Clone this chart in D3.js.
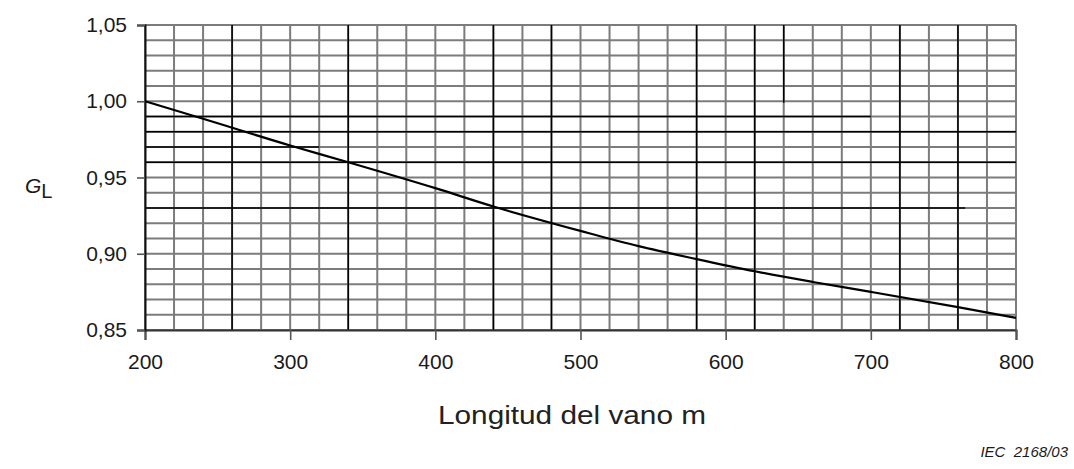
<!DOCTYPE html>
<html>
<head>
<meta charset="utf-8">
<script src="https://cdn.jsdelivr.net/npm/d3@7"></script>
<style>
  body { margin: 0; background: #fff; }
  svg text { font-family: "Liberation Sans", Arial, sans-serif; fill: #1a1a1a; }
</style>
</head>
<body>
<div id="chart"></div>
<script>
let width = 1074
let height = 469
let margin = {top: 25, right: 58, bottom: 139, left: 145}

// span length (m) and factor G_L
let spans = [200, 240, 300, 340, 400, 440, 500, 540, 580, 620, 660, 700, 760, 800]
let gl = [1.000, 0.9885, 0.971, 0.960, 0.943, 0.931, 0.915, 0.905, 0.8965, 0.8885, 0.8815, 0.875, 0.865, 0.858]

let xTicks = [200, 300, 400, 500, 600, 700, 800]
let yTicks = [0.85, 0.90, 0.95, 1.00, 1.05]

// the scanned grid has some lines printed darker, some only partly
let darkX = [[260, 0.85, 1.05], [340, 0.85, 1.05], [440, 0.85, 1.05], [480, 0.85, 1.05], [580, 0.85, 1.05],
             [620, 0.85, 1.05], [640, 0.999, 1.05], [720, 0.85, 1.05], [760, 0.85, 1.05]]
let darkY = [[0.99, 200, 700], [0.98, 200, 800], [0.97, 200, 320], [0.96, 200, 800], [0.93, 200, 765]]

let w = width - margin.left - margin.right
let h = height - margin.top - margin.bottom

let svg = d3.select('#chart')
    .append('svg')
    .attr('width', width)
    .attr('height', height)

let g = svg.append('g')
    .attr('transform', 'translate(' + margin.left + ',' + margin.top + ')')

let x = d3.scaleLinear()
    .domain([200, 800])
    .range([0, w])

let y = d3.scaleLinear()
    .domain([0.85, 1.05])
    .range([h, 0])

// light grid, every 20 m and every 0,01
let gridX = d3.range(200, 801, 20)
let gridY = d3.range(0, 21).map(i => 0.85 + i * 0.01)

g.selectAll('.vgrid')
    .data(gridX)
    .enter()
    .append('line')
    .attr('x1', d => x(d)).attr('x2', d => x(d))
    .attr('y1', 0).attr('y2', h)
    .attr('stroke', '#7c7c7c')
    .attr('stroke-width', 2)

g.selectAll('.hgrid')
    .data(gridY)
    .enter()
    .append('line')
    .attr('x1', 0).attr('x2', w)
    .attr('y1', d => y(d)).attr('y2', d => y(d))
    .attr('stroke', '#7c7c7c')
    .attr('stroke-width', 2)

g.selectAll('.darkx')
    .data(darkX)
    .enter()
    .append('line')
    .attr('x1', d => x(d[0])).attr('x2', d => x(d[0]))
    .attr('y1', d => y(d[2])).attr('y2', d => y(d[1]))
    .attr('stroke', '#000')
    .attr('stroke-width', 1.5)

g.selectAll('.darky')
    .data(darkY)
    .enter()
    .append('line')
    .attr('x1', d => x(d[1])).attr('x2', d => x(d[2]))
    .attr('y1', d => y(d[0])).attr('y2', d => y(d[0]))
    .attr('stroke', '#000')
    .attr('stroke-width', 1.5)

// axes
let xAxis = d3.axisBottom(x)
    .tickValues(xTicks)
    .tickSize(10)
    .tickPadding(14)
    .tickFormat(d3.format('d'))

let yAxis = d3.axisLeft(y)
    .tickValues(yTicks)
    .tickSize(8)
    .tickPadding(10)
    .tickFormat(d => d3.format('.2f')(d).replace('.', ','))

let xg = g.append('g')
    .attr('transform', 'translate(0,' + h + ')')
    .call(xAxis)
xg.select('.domain').attr('stroke', '#333').attr('stroke-width', 2)
xg.selectAll('line').attr('stroke', '#555').attr('stroke-width', 1.6)
xg.selectAll('text').style('font-size', '21px')

let yg = g.append('g')
    .call(yAxis)
yg.select('.domain').attr('stroke', '#111').attr('stroke-width', 2)
yg.selectAll('line').attr('stroke', '#555').attr('stroke-width', 1.6)
yg.selectAll('text').style('font-size', '21px')

// curve
let line = d3.line()
    .x((d, i) => x(spans[i]))
    .y(d => y(d))
    .curve(d3.curveMonotoneX)

g.append('path')
    .datum(gl)
    .attr('d', line)
    .attr('fill', 'none')
    .attr('stroke', '#000')
    .attr('stroke-width', 2.2)

// labels
let gLabel = svg.append('text')
    .attr('x', 25)
    .attr('y', 193)
    .style('font-size', '21px')
gLabel.append('tspan').text('G').style('font-style', 'italic')
gLabel.append('tspan').text('L').attr('dy', 5).style('font-size', '20px')

svg.append('text')
    .attr('x', 438)
    .attr('y', 424)
    .style('font-size', '25px')
    .style('font-family', '"Liberation Sans Narrow", "Liberation Sans", Arial, sans-serif')
    .style('fill', '#222')
    .attr('textLength', 268)
    .attr('lengthAdjust', 'spacingAndGlyphs')
    .text('Longitud del vano m')

svg.append('text')
    .attr('x', 1068)
    .attr('y', 457)
    .attr('text-anchor', 'end')
    .style('font-size', '15px')
    .style('font-style', 'italic')
    .attr('xml:space', 'preserve')
    .text('IEC  2168/03')
</script>
</body>
</html>
